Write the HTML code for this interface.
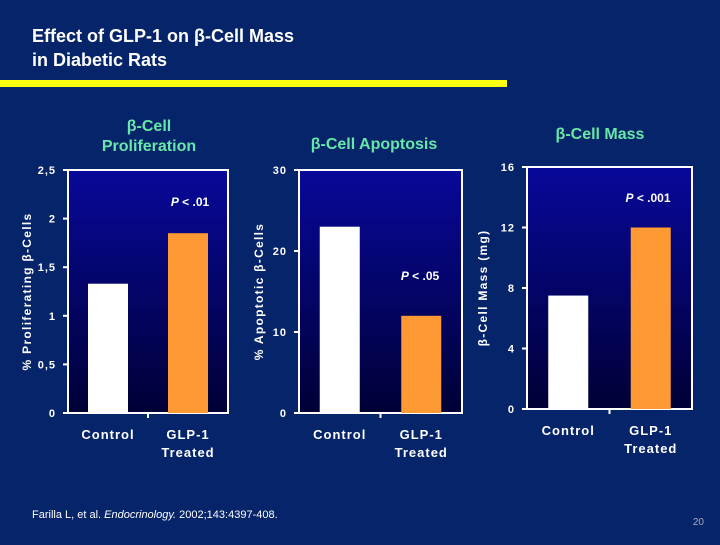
<!DOCTYPE html>
<html><head><meta charset="utf-8"><style>
body{margin:0;width:720px;height:540px;background:#06246a;overflow:hidden;font-family:"Liberation Sans",Arial,sans-serif}
</style></head><body>
<svg width="720" height="540" xmlns="http://www.w3.org/2000/svg">
<defs><linearGradient id="pg" x1="0" y1="0" x2="0" y2="1"><stop offset="0" stop-color="#08089a"/><stop offset="1" stop-color="#000036"/></linearGradient></defs>
<rect width="720" height="540" fill="#06246a"/>
<text x="32" y="42" fill="#fff" font-size="18" font-weight="bold">Effect of GLP-1 on β-Cell Mass</text>
<text x="32" y="66" fill="#fff" font-size="18" font-weight="bold">in Diabetic Rats</text>
<rect x="0" y="80" width="507" height="7" fill="#ffff10"/>
<text x="32" y="518" fill="#fff" font-size="11">Farilla L, et al. <tspan font-style="italic">Endocrinology.</tspan> 2002;143:4397-408.</text>
<text x="704" y="525" fill="#aab" font-size="10" text-anchor="end">20</text>
<g id="charts"></g>
</svg>
<script>
const categories=["Control","GLP-1 Treated"];
const prolifValues=[1.33,1.85];
const prolifTicks=["0","0,5","1","1,5","2","2,5"];
const apopValues=[23,12];
const apopTicks=["0","10","20","30"];
const massValues=[7.5,12];
const massTicks=["0","4","8","12","16"];
const NS="http://www.w3.org/2000/svg";
const root=document.getElementById('charts');
function mk(tag,attrs,parent){const e=document.createElementNS(NS,tag);for(const k in attrs)e.setAttribute(k,attrs[k]);(parent||root).appendChild(e);return e;}
function chart(cfg){
  const g=mk('g',{});
  
  
  const {x0,x1,y0,y1,max}=cfg;
  const ys=v=>y1-(v/max)*(y1-y0);
  const bw=(x1-x0)/2;
  const plot=mk('rect',{x:x0,y:y0,width:x1-x0,height:y1-y0,fill:'url(#pg)',stroke:'#fff','stroke-width':2},g);
  
  
  cfg.values.forEach((v,i)=>{
    const cx=x0+bw*(i+0.5);
    const r=mk('rect',{x:cx-20,y:ys(v),width:40,height:y1-ys(v),fill:i?'#ff9933':'#ffffff'},g);
    
    
    const lines=categories[i].split(' ');
    lines.forEach((l,j)=>{
      const t=mk('text',{x:cx,y:y1+26+j*18,fill:'#fff','font-size':13,'font-weight':'bold','text-anchor':'middle','letter-spacing':1},g);
      t.textContent=l;
      
      
    });
  });
  mk('line',{x1:(x0+x1)/2,x2:(x0+x1)/2,y1:y1,y2:y1+5,stroke:'#fff','stroke-width':2},g);
  cfg.ticks.forEach((tk,i)=>{
    const v=parseFloat(tk.replace(',','.'));
    const y=ys(v);
    mk('line',{x1:x0-5,x2:x0,y1:y,y2:y,stroke:'#fff','stroke-width':2},g);
    const t=mk('text',{x:x0-12,y:y+4,fill:'#fff','font-size':11,'font-weight':'bold','text-anchor':'end','letter-spacing':1},g);
    t.textContent=tk;
    
    
  });
  const yt=mk('text',{x:0,y:0,fill:'#fff','font-size':12,'font-weight':'bold','text-anchor':'middle','letter-spacing':1.3,transform:`translate(${cfg.ytx},${(y0+y1)/2}) rotate(-90)`},g);
  yt.textContent=cfg.ytitle;
  
  
  cfg.title.forEach((l,j)=>{
    const t=mk('text',{x:cfg.tx,y:cfg.ty+j*20,fill:'#66e8a8','font-size':16,'font-weight':'bold','text-anchor':'middle'},g);
    t.textContent=l;
    
    
  });
  const p=mk('text',{x:cfg.px,y:cfg.py,fill:'#fff','font-size':12,'font-weight':'bold','text-anchor':'middle'},g);
  p.innerHTML='<tspan font-style="italic">P</tspan> &lt; '+cfg.p;
  
  
}
chart({name:'proliferation-chart',x0:68,x1:228,y0:170,y1:413,max:2.5,values:prolifValues,ticks:prolifTicks,ytitle:'% Proliferating  β-Cells',ytx:31,title:['β-Cell','Proliferation'],tx:149,ty:131,p:'.01',px:190,py:206});
chart({name:'apoptosis-chart',x0:299,x1:462,y0:170,y1:413,max:30,values:apopValues,ticks:apopTicks,ytitle:'% Apoptotic  β-Cells',ytx:263,title:['β-Cell Apoptosis'],tx:374,ty:149,p:'.05',px:420,py:280});
chart({name:'mass-chart',x0:527,x1:692,y0:167,y1:409,max:16,values:massValues,ticks:massTicks,ytitle:'β-Cell Mass (mg)',ytx:487,title:['β-Cell Mass'],tx:600,ty:139,p:'.001',px:648,py:202});
</script>
</body></html>
